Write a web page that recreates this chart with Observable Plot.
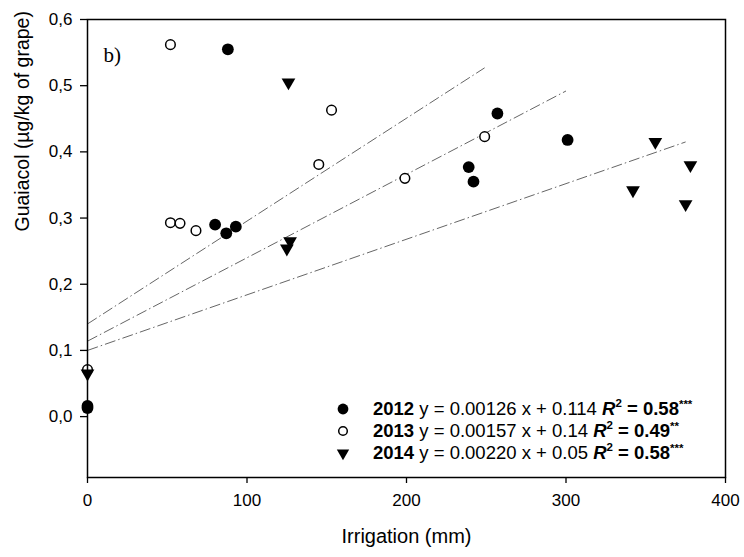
<!DOCTYPE html>
<html>
<head>
<meta charset="utf-8">
<script src="https://cdn.jsdelivr.net/npm/d3@7"></script>
<script src="https://cdn.jsdelivr.net/npm/@observablehq/plot@0.6"></script>
<style>
  html, body { margin: 0; padding: 0; background: #fff; }
  #chart { width: 744px; height: 557px; }
</style>
</head>
<body>
<div id="chart"></div>
<script>
// ---- data ----
const x2012 = [0, 0, 80, 88, 87, 93, 239, 242, 257, 301];
const y2012 = [0.013, 0.016, 0.290, 0.555, 0.277, 0.287, 0.377, 0.355, 0.458, 0.418];
const x2013 = [0, 52, 52, 58, 68, 145, 153, 199, 249];
const y2013 = [0.071, 0.562, 0.293, 0.292, 0.281, 0.381, 0.463, 0.360, 0.423];
const x2014 = [0, 126, 127, 125, 342, 356, 375, 378];
const y2014 = [0.065, 0.505, 0.265, 0.254, 0.342, 0.415, 0.321, 0.380];

// regression lines as drawn (endpoints)
const lineYears = ["2012", "2013", "2014"];
const lineX0 = [0, 0, 0];
const lineY0 = [0.114, 0.140, 0.100];
const lineX1 = [300, 249, 375];
const lineY1 = [0.492, 0.527, 0.415];

// legend texts
const legendYears = ["2012", "2013", "2014"];
const legendSlopes = ["0.00126", "0.00157", "0.00220"];
const legendIntercepts = ["0.114", "0.14", "0.05"];
const legendR2 = ["0.58", "0.49", "0.58"];
const legendSig = ["***", "**", "***"];

const xTicks = [0, 100, 200, 300, 400];
const yTicks = [0, 0.1, 0.2, 0.3, 0.4, 0.5, 0.6];

const toRows = (xs, ys) => xs.map((x, i) => ({x, y: ys[i]}));
const d2012 = toRows(x2012, y2012);
const d2013 = toRows(x2013, y2013);
const d2014 = toRows(x2014, y2014);
const lines = lineYears.map((year, i) => ({year, x1: lineX0[i], y1: lineY0[i], x2: lineX1[i], y2: lineY1[i]}));

const fmt = d => d.toFixed(1).replace(".", ",");

const plot = Plot.plot({
  width: 744,
  height: 557,
  marginLeft: 87,
  marginRight: 19,
  marginTop: 19,
  marginBottom: 80,
  style: {fontFamily: "'Liberation Sans', Arial, sans-serif", fontSize: "17px", color: "#000", background: "#fff", overflow: "visible"},
  x: {domain: [0, 400]},
  y: {domain: [-0.092, 0.6]},
  marks: [
    Plot.axisX({ticks: xTicks, tickSize: 6, tickPadding: 10, tickFormat: d => String(d), label: null, fontSize: 17, strokeWidth: 1.3}),
    Plot.axisY({ticks: yTicks, tickSize: 7, tickPadding: 8, tickFormat: fmt, label: null, fontSize: 17, strokeWidth: 1.3}),
    Plot.text(["Irrigation (mm)"], {frameAnchor: "bottom", dy: 65, fontSize: 20}),
    Plot.text(["Guaiacol (µg/kg of grape)"], {frameAnchor: "left", rotate: -90, dx: -65, dy: -17, fontSize: 19.5}),
    Plot.text(["b)"], {frameAnchor: "top-left", dx: 16, dy: 36, lineAnchor: "middle", textAnchor: "start", fontFamily: "'Liberation Serif', 'Times New Roman', serif", fontSize: 21}),
    Plot.link(lines, {x1: "x1", y1: "y1", x2: "x2", y2: "y2", stroke: "#666", strokeWidth: 1, strokeDasharray: "11,3,1.5,3"}),
    Plot.dot(d2012, {x: "x", y: "y", r: 5.9, fill: "#000", stroke: "none"}),
    Plot.dot(d2013, {x: "x", y: "y", r: 4.8, fill: "#fff", stroke: "#000", strokeWidth: 1.5}),
    Plot.dot(d2014, {x: "x", y: "y", symbol: "triangle", r: 5.1, fill: "#000", stroke: "none", rotate: 180}),
    Plot.frame({stroke: "#000", strokeWidth: 1.5})
  ]
});

document.getElementById("chart").appendChild(plot);

// ---- legend inside the plot, lower right ----
const svg = d3.select(plot);
const lg = svg.append("g")
  .attr("font-family", "'Liberation Sans', Arial, sans-serif")
  .attr("font-size", 18.5)
  .attr("text-anchor", "start")
  .attr("fill", "#000");
const symX = 343, textX = 373, row0 = 409, rowStep = 22;
legendYears.forEach((yr, i) => {
  const cy = row0 + i * rowStep;
  if (i === 0) {
    lg.append("circle").attr("cx", symX).attr("cy", cy).attr("r", 5.4).attr("fill", "#000");
  } else if (i === 1) {
    lg.append("circle").attr("cx", symX).attr("cy", cy).attr("r", 4.3).attr("fill", "#fff").attr("stroke", "#000").attr("stroke-width", 1.5);
  } else {
    lg.append("path").attr("d", d3.symbol(d3.symbolTriangle, Math.PI * 4.6 * 4.6)())
      .attr("transform", `translate(${symX},${cy}) rotate(180)`).attr("fill", "#000");
  }
  const t = lg.append("text").attr("x", textX).attr("y", cy + 6).attr("text-anchor", "start");
  t.append("tspan").attr("font-weight", "bold").text(yr);
  t.append("tspan").text(` y = ${legendSlopes[i]} x + ${legendIntercepts[i]} `);
  t.append("tspan").attr("font-weight", "bold").attr("font-style", "italic").text("R");
  t.append("tspan").attr("font-weight", "bold").attr("font-size", 11.5).attr("dy", -8).text("2");
  t.append("tspan").attr("font-weight", "bold").attr("dy", 8).text(` = ${legendR2[i]}`);
  t.append("tspan").attr("font-weight", "bold").attr("font-size", 11.5).attr("dy", -7).text(legendSig[i]);
});
</script>
</body>
</html>
